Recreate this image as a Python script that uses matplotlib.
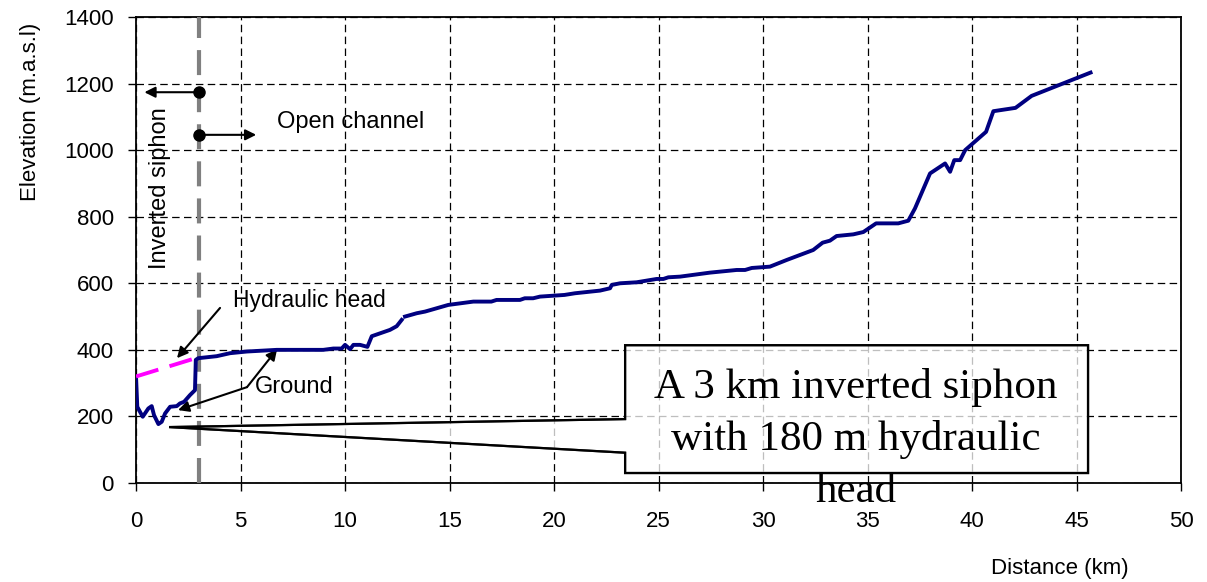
import numpy as np
import matplotlib
matplotlib.use('Agg')
import matplotlib.pyplot as plt
from matplotlib.patches import Polygon

plt.rcParams['font.family'] = ['Liberation Sans', 'DejaVu Sans']

# ground profile along the tunnel (km, m.a.s.l)
dist = [0.0, 0.06, 0.32, 0.59, 0.75, 0.86, 1.07, 1.23, 1.39, 1.63, 1.95, 2.1, 2.3,
        2.58, 2.82, 2.86, 2.98, 3.86, 4.5, 5.3, 6.73, 8.96, 9.44, 9.84, 10.0, 10.24,
        10.4, 10.72, 11.07, 11.28, 11.6, 12.15, 12.47, 12.71, np.nan, 12.87, 13.43,
        13.83, 14.22, 14.94, 16.14, 17.0, 17.25, 18.37, 18.6, 19.0, 19.33, 19.8,
        20.5, 21.0, 22.2, 22.68, 22.76, 23.16, 23.95, 24.91, 25.23, 25.47, 26.03,
        27.46, 28.74, 29.14, 29.46, 30.33, 30.49, 31.13, 32.4, 32.85, 33.2, 33.52,
        34.32, 34.8, 35.41, 36.47, 36.95, 37.27, 37.99, 38.71, 38.95, 39.15, 39.43,
        39.67, 40.67, 41.02, 42.08, 42.85, 45.67]
elev = [320, 229, 199, 224, 231, 204, 177, 184, 209, 229, 231, 239, 244,
        264, 279, 370, 375, 381, 390, 395, 400, 400, 404, 404, 415, 402,
        415, 415, 409, 441, 448, 460, 471, 490, np.nan, 500, 510,
        515, 522, 535, 545, 545, 550, 550, 555, 555, 560, 562,
        565, 570, 578, 585, 595, 600, 603, 613, 613, 618, 620,
        632, 640, 640, 646, 650, 654, 670, 700, 722, 728, 742,
        747, 754, 780, 780, 788, 825, 930, 960, 935, 970, 970,
        1000, 1055, 1117, 1127, 1163, 1233]

# hydraulic head over the siphon
head_x = [0.0, 2.85]
head_y = [320, 375]

siphon_end = 3.0

fig = plt.figure(figsize=(12.07, 5.82), dpi=100)
ax = fig.add_axes([0.1127, 0.1701, 0.8658, 0.8007])

ax.plot(dist, elev, color='#000080', lw=2.8, zorder=4)
ax.plot(head_x, head_y, color='#FF00FF', lw=2.8, linestyle=(0, (6, 3)), zorder=4)
ax.axvline(siphon_end, color='#808080', lw=3, linestyle=(0, (6, 2.9)), zorder=3)

ax.set_xlim(0, 50)
ax.set_ylim(0, 1400)
ax.set_xticks(np.arange(0, 51, 5))
ax.set_yticks(np.arange(0, 1401, 200))
ax.grid(True, color='k', lw=0.9, linestyle=(0, (6, 3.5)))
ax.tick_params(direction='out', length=6, width=1, labelsize=16, pad=10)
ax.tick_params(axis='x', pad=14)
for s in ax.spines.values():
    s.set_linewidth(1.3)

ax.set_ylabel('Elevation (m.a.s.l)', fontsize=16)
ax.yaxis.set_label_coords(-0.091, 0.796)
ax.set_xlabel('Distance (km)', fontsize=16)
ax.xaxis.set_label_coords(0.884, -0.16)

# siphon / open channel markers
ax.plot([siphon_end, siphon_end], [1174, 1046], 'o', color='k', ms=8, zorder=5)
arr = dict(arrowstyle='-|>', color='k', lw=1.5, mutation_scale=16, shrinkA=0, shrinkB=0)
ax.annotate('', xy=(0.4, 1174), xytext=(siphon_end, 1174), arrowprops=arr)
ax.annotate('', xy=(5.75, 1046), xytext=(siphon_end, 1046), arrowprops=arr)
ax.text(6.75, 1084, 'Open channel', fontsize=17, va='center', ha='left')
ax.text(1.15, 885, 'Inverted siphon', fontsize=17, rotation=90, va='center', ha='center')

ax.text(4.66, 548, 'Hydraulic head', fontsize=16.5, va='center', ha='left')
ax.annotate('', xy=(1.96, 375), xytext=(4.02, 526), arrowprops=arr)
ax.text(5.7, 288, 'Ground', fontsize=17, va='center', ha='left')
ax.annotate('', xy=(6.75, 402), xytext=(5.31, 288), arrowprops=arr)
ax.annotate('', xy=(2.01, 219), xytext=(5.31, 288), arrowprops=arr)

# callout box
callout = [(23.4, 414), (45.55, 414), (45.55, 30), (23.4, 30), (23.4, 91),
           (1.58, 168), (23.4, 192)]
ax.add_patch(Polygon(callout, closed=True, facecolor='white', edgecolor='k',
                     lw=1.6, alpha=0.75, zorder=6))
ax.add_patch(Polygon(callout, closed=True, facecolor='none', edgecolor='k',
                     lw=1.6, zorder=7))
ax.text(34.45, 131, 'A 3 km inverted siphon\nwith 180 m hydraulic\nhead',
        family=['Liberation Serif', 'DejaVu Serif'], fontsize=31, ha='center',
        va='center', linespacing=1.45, zorder=8, clip_on=False)

fig.savefig('out.png', dpi=100)
